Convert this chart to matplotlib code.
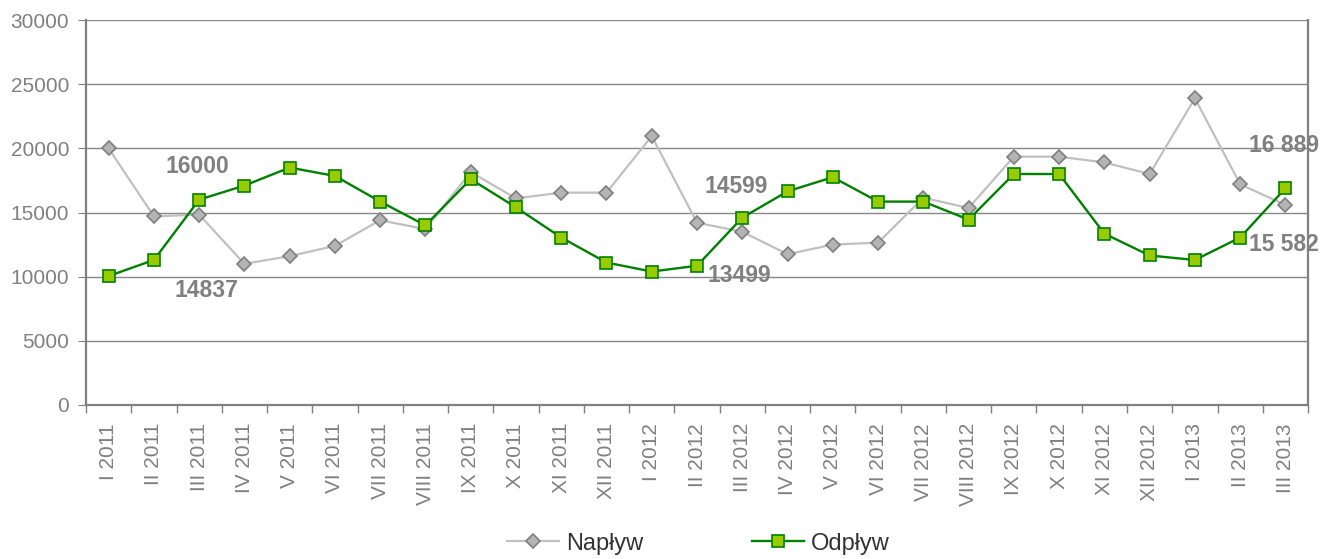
import matplotlib.pyplot as plt
import numpy as np

plt.rcParams['font.family'] = ['Liberation Sans', 'DejaVu Sans']

# months (roman numeral + year)
months = ["I 2011", "II 2011", "III 2011", "IV 2011", "V 2011", "VI 2011",
          "VII 2011", "VIII 2011", "IX 2011", "X 2011", "XI 2011", "XII 2011",
          "I 2012", "II 2012", "III 2012", "IV 2012", "V 2012", "VI 2012",
          "VII 2012", "VIII 2012", "IX 2012", "X 2012", "XI 2012", "XII 2012",
          "I 2013", "II 2013", "III 2013"]

naplyw = [20000, 14700, 14837, 11000, 11600, 12400, 14400, 13700, 18150,
          16100, 16550, 16550, 20950, 14200, 13499, 11750, 12500, 12650,
          16150, 15350, 19350, 19350, 18900, 18000, 23900, 17200, 15582]

odplyw = [10050, 11300, 16000, 17100, 18500, 17850, 15850, 14000, 17600,
          15400, 13050, 11100, 10400, 10850, 14599, 16650, 17750, 15850,
          15850, 14450, 18000, 18000, 13350, 11650, 11300, 13050, 16889]

# value labels: (series, month index, text, x offset, y offset in data units)
labels = [("out", 2, "16000", -0.05, 2620), ("in", 2, "14837", 0.17, -5950),
          ("out", 14, "14599", -0.14, 2390), ("in", 14, "13499", -0.07, -3370),
          ("out", 26, "16 889", -0.03, 3300), ("in", 26, "15 582", -0.03, -3100)]

GRAY = "#808080"

fig = plt.figure(figsize=(13.23, 5.59), dpi=100)
ax = fig.add_axes([0.065, 0.2755, 0.9237, 0.6887])

x = np.arange(len(months))
ax.plot(x, naplyw, color="#c0c0c0", lw=1.6, marker="D", ms=7.5,
        mfc="#b4b4b4", mec="#7f7f7f", mew=1.2, label="Napływ", zorder=3)
ax.plot(x, odplyw, color="#008000", lw=1.7, marker="s", ms=8.5,
        mfc="#99cc00", mec="#008000", mew=1.2, label="Odpływ", zorder=4)

for series, i, txt, dx, dy in labels:
    val = odplyw[i] if series == "out" else naplyw[i]
    ax.text(i + dx, val + dy, txt, color=GRAY, fontsize=16.5,
            fontweight="bold", ha="center", va="center", zorder=5,
            clip_on=False)

ax.set_xlim(-0.5, len(months) - 0.5)
ax.set_ylim(0, 30000)
ax.set_yticks(np.arange(0, 30001, 5000))
ax.yaxis.grid(True, color="#888888", lw=1)
ax.set_axisbelow(True)

ax.set_xticks(x)
ax.set_xticklabels(months, rotation=90, color=GRAY, fontsize=15)
ax.set_xticks(np.arange(-0.5, len(months), 1), minor=True)
ax.tick_params(axis="x", which="major", length=0, pad=13)
ax.tick_params(axis="x", which="minor", length=6, color=GRAY, width=1)
ax.tick_params(axis="y", length=6, color=GRAY, labelcolor=GRAY,
               labelsize=15, pad=6)

for side in ["left", "bottom", "right"]:
    ax.spines[side].set_color(GRAY)
    ax.spines[side].set_linewidth(1.6)
ax.spines["top"].set_visible(False)

fig.legend(loc="lower center", bbox_to_anchor=(0.528, -0.03), ncol=2,
           frameon=False, fontsize=17, handlelength=2.2, handletextpad=0.3,
           columnspacing=4.6, labelcolor="#333333")

plt.savefig("out.png", dpi=100)
